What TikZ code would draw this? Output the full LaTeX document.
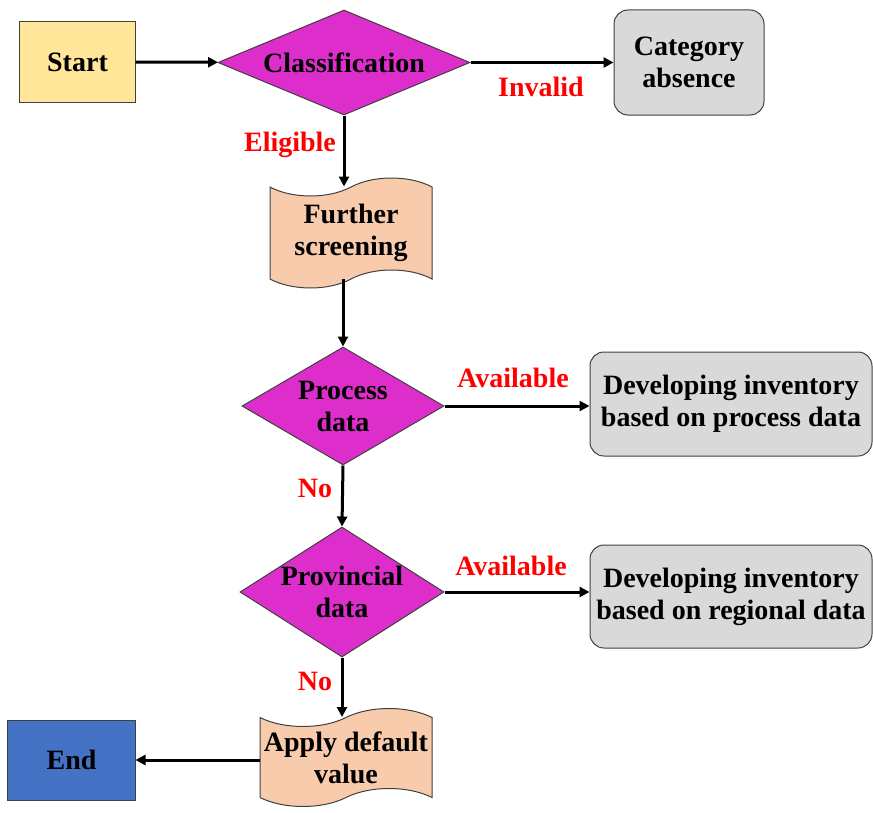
\documentclass[tikz,border=0pt]{standalone}
\usepackage{fontspec}
\setmainfont{Liberation Serif}
\usetikzlibrary{shapes.geometric,shapes.symbols,arrows.meta}
\definecolor{startc}{HTML}{FFE699}
\definecolor{magc}{HTML}{DD2ECC}
\definecolor{tapec}{HTML}{F8CBAD}
\definecolor{grayc}{HTML}{D9D9D9}
\definecolor{bluec}{HTML}{4472C4}
\definecolor{edgec}{HTML}{404040}
\tikzset{
  base/.style={draw=edgec, line width=1bp, font=\bfseries\fontsize{28bp}{32bp}\selectfont, align=center, inner sep=0pt},
  rectbox/.style={base, rectangle, minimum width=#1},
  dia/.style={base, diamond, fill=magc},
  tapebox/.style={base, tape, fill=tapec, tape bend top=in and out, tape bend bottom=in and out, tape bend height=18bp},
  roundbox/.style={base, rectangle, rounded corners=14bp, fill=grayc},
  lab/.style={font=\bfseries\fontsize{28bp}{32bp}\selectfont, text=red, inner sep=0pt},
  conn/.style={line width=3bp, -{Triangle[length=10bp,width=10bp]}}
}
\begin{document}
\begin{tikzpicture}[x=1bp,y=-1bp]
\useasboundingbox (0,0) rectangle (873,813);
\node[rectbox=115bp, minimum height=80bp, fill=startc] (start) at (77.5,62) {Start};
\node[dia, minimum width=252bp, minimum height=105bp, aspect=2.4] (cls) at (344,62.5) {Classification};
\node[roundbox, minimum width=150bp, minimum height=105bp] (cat) at (689,62.5) {Category\\absence};
\node[tapebox, minimum width=162bp, minimum height=110bp] (fs) at (351,233) {Further\\screening};
\node[dia, minimum width=202bp, minimum height=118bp, aspect=1.71] (pd) at (343,406) {Process\\data};
\node[roundbox, minimum width=282bp, minimum height=104bp] (dp) at (731,404) {Developing inventory\\based on process data};
\node[dia, minimum width=204bp, minimum height=130bp, aspect=1.57] (prd) at (342,592) {Provincial\\data};
\node[roundbox, minimum width=282bp, minimum height=103bp] (dr) at (731,596.5) {Developing inventory\\based on regional data};
\node[tapebox, minimum width=172bp, minimum height=98bp] (ad) at (346,757.5) {Apply default\\value};
\node[rectbox=127bp, minimum height=80bp, fill=bluec] (end) at (71.5,760) {End};
\draw[conn] (start) -- (cls);
\draw[conn] (cls) -- (cat);
\draw[conn] (cls.south) -- (cls.south |- fs.north);
\draw[conn] (fs.south -| pd.north) -- (pd.north);
\draw[conn] (pd.east) -- (pd.east -| dp.west);
\draw[conn] (pd.south) -- (prd.north);
\draw[conn] (prd.east) -- (prd.east -| dr.west);
\draw[conn] (prd.south) -- (prd.south |- ad.north);
\draw[conn] (ad.west |- end.east) -- (end.east);
\node[lab] (linv) at (541,87) {Invalid};
\node[lab] (lel) at (290,145) {Eligible};
\node[lab] (lav1) at (513,378) {Available};
\node[lab] (lno1) at (315,488) {No};
\node[lab] (lav2) at (511,566) {Available};
\node[lab] (lno2) at (315,681) {No};
\end{tikzpicture}
\end{document}
